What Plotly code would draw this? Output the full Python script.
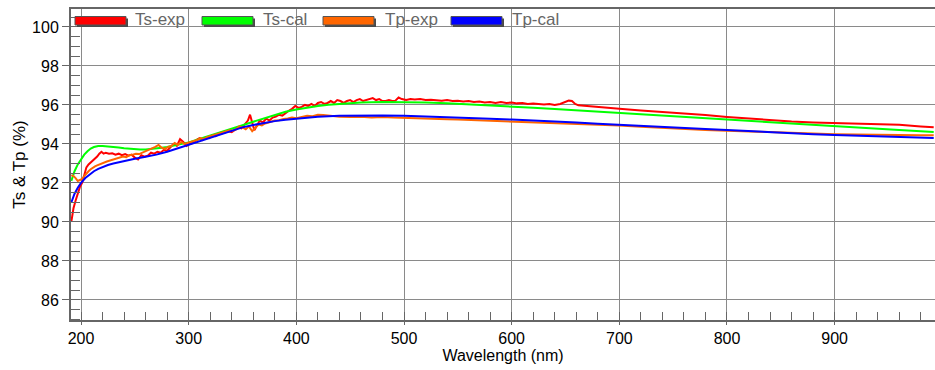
import plotly.graph_objects as go

# ---- measured transmittance spectra (wavelength in nm, transmittance in %) ----
ts_exp_x = [191, 193, 195, 197, 199, 201, 203, 205, 207, 209, 211, 213, 215, 217, 219, 221, 223, 226, 229, 232,
            235, 238, 241, 244, 247, 250, 253, 256, 259, 262, 265, 268, 271, 274, 277, 280, 283, 286, 289, 292,
            295, 298, 301, 304, 307, 310, 313, 316, 319, 322, 325, 328, 331, 334, 337, 340, 343, 346, 349, 352,
            355, 357, 359, 361, 363, 366, 369, 372, 375, 378, 381, 384, 387, 390, 393, 396, 399, 402, 405, 408,
            411, 414, 417, 420, 423, 426, 429, 432, 435, 438, 441, 444, 447, 450, 453, 456, 459, 462, 465, 468,
            471, 474, 477, 480, 483, 486, 489, 492, 495, 498, 502, 506, 510, 515, 520, 525, 530, 535, 540, 545,
            550, 555, 560, 565, 570, 575, 580, 585, 590, 595, 600, 605, 610, 615, 620, 625, 630, 635, 640, 645,
            650, 653, 656, 659, 662, 670, 680, 690, 700, 720, 740, 760, 780, 800, 820, 840, 860, 880, 900, 920,
            940, 960, 980, 992]
ts_exp_y = [90.0, 90.7, 91.1, 91.45, 91.8, 92.0, 92.4, 92.8, 92.95, 93.05, 93.1, 93.25, 93.35, 93.5, 93.6, 93.5,
            93.55, 93.5, 93.52, 93.45, 93.5, 93.42, 93.48, 93.4, 93.45, 93.3, 93.2, 93.42, 93.35, 93.4, 93.55,
            93.5, 93.6, 93.55, 93.7, 93.65, 93.8, 94.0, 93.9, 94.25, 94.1, 93.9, 94.0, 94.05, 94.2, 94.3, 94.2,
            94.35, 94.3, 94.45, 94.4, 94.5, 94.55, 94.6, 94.65, 94.6, 94.75, 94.85, 94.8, 95.0, 95.2, 95.5, 95.1,
            94.7, 94.9, 95.2, 95.1, 95.3, 95.2, 95.35, 95.4, 95.5, 95.45, 95.6, 95.7, 95.8, 95.95, 95.85, 95.9,
            96.0, 95.95, 96.05, 95.95, 96.1, 96.15, 96.05, 96.1, 96.2, 96.1, 96.25, 96.2, 96.1, 96.2, 96.25, 96.15,
            96.25, 96.3, 96.2, 96.25, 96.3, 96.35, 96.25, 96.3, 96.2, 96.2, 96.25, 96.2, 96.22, 96.38, 96.3,
            96.25, 96.3, 96.28, 96.3, 96.25, 96.27, 96.25, 96.22, 96.25, 96.2, 96.22, 96.18, 96.2, 96.15, 96.18,
            96.12, 96.15, 96.1, 96.15, 96.1, 96.12, 96.08, 96.1, 96.05, 96.07, 96.05, 96.02, 96.05, 96.0, 96.05,
            96.15, 96.22, 96.2, 96.05, 95.98, 95.95, 95.9, 95.85, 95.8, 95.72, 95.65, 95.55, 95.48, 95.38, 95.3,
            95.22, 95.15, 95.1, 95.07, 95.05, 95.0, 94.98, 94.9, 94.85]

ts_cal_x = [191, 194, 197, 200, 203, 206, 209, 212, 216, 220, 225, 230, 235, 240, 245, 250, 255, 260, 265, 270,
            275, 280, 285, 290, 295, 300, 310, 320, 330, 340, 350, 360, 370, 380, 390, 400, 410, 420, 430, 440,
            450, 460, 480, 500, 520, 540, 560, 580, 600, 620, 640, 660, 680, 700, 720, 740, 760, 780, 800, 820,
            840, 860, 880, 900, 920, 940, 960, 980, 992]
ts_cal_y = [92.1, 92.6, 92.95, 93.2, 93.45, 93.62, 93.76, 93.84, 93.89, 93.9, 93.88, 93.85, 93.82, 93.78, 93.75,
            93.73, 93.72, 93.72, 93.74, 93.77, 93.8, 93.84, 93.9, 93.96, 94.02, 94.08, 94.25, 94.42, 94.6, 94.78,
            94.96, 95.14, 95.32, 95.5, 95.65, 95.77, 95.87, 95.95, 96.01, 96.06, 96.1, 96.13, 96.15, 96.14, 96.12,
            96.08, 96.03, 95.98, 95.93, 95.86, 95.79, 95.72, 95.66, 95.6, 95.52, 95.45, 95.38, 95.31, 95.24, 95.17,
            95.1, 95.03, 94.96, 94.9, 94.83, 94.77, 94.71, 94.65, 94.61]

tp_exp_x = [191, 193, 195, 197, 199, 201, 203, 205, 207, 209, 211, 213, 215, 217, 219, 221, 224, 227, 230, 233,
            236, 239, 242, 245, 248, 251, 254, 257, 260, 263, 266, 269, 272, 275, 278, 281, 284, 287, 290, 293,
            296, 299, 302, 305, 308, 311, 314, 317, 320, 323, 326, 329, 332, 335, 338, 341, 344, 347, 350, 353,
            356, 359, 362, 365, 368, 371, 374, 377, 380, 384, 388, 392, 396, 400, 405, 410, 415, 420, 425, 430,
            435, 440, 450, 460, 470, 480, 490, 500, 510, 520, 530, 540, 550, 560, 570, 580, 590, 600, 620, 640,
            660, 680, 700, 720, 740, 760, 780, 800, 820, 840, 860, 880, 900, 920, 940, 960, 980, 992]
tp_exp_y = [92.4, 92.35, 92.25, 92.1, 92.15, 92.2, 92.35, 92.5, 92.6, 92.7, 92.8, 92.85, 92.9, 92.95, 93.0, 93.05,
            93.1, 93.15, 93.2, 93.25, 93.3, 93.35, 93.32, 93.42, 93.45, 93.5, 93.48, 93.55, 93.6, 93.7, 93.75,
            93.85, 93.95, 93.8, 93.75, 93.85, 93.9, 94.05, 93.95, 94.1, 94.0, 94.05, 94.1, 94.15, 94.2, 94.3,
            94.25, 94.35, 94.4, 94.45, 94.5, 94.55, 94.6, 94.65, 94.7, 94.68, 94.75, 94.9, 94.85, 94.75, 94.9,
            94.65, 94.85, 95.0, 94.95, 95.05, 95.1, 95.15, 95.2, 95.22, 95.28, 95.3, 95.35, 95.32, 95.38, 95.45,
            95.42, 95.5, 95.48, 95.45, 95.42, 95.4, 95.38, 95.4, 95.36, 95.38, 95.35, 95.34, 95.32, 95.3, 95.28,
            95.27, 95.25, 95.23, 95.22, 95.2, 95.18, 95.17, 95.12, 95.08, 95.03, 94.98, 94.94, 94.88, 94.82,
            94.76, 94.71, 94.68, 94.64, 94.6, 94.56, 94.53, 94.5, 94.48, 94.46, 94.45, 94.44, 94.45]

tp_cal_x = [191, 194, 197, 200, 204, 208, 212, 216, 220, 225, 230, 240, 250, 260, 270, 280, 290, 300, 310, 320,
            330, 340, 350, 360, 370, 380, 390, 400, 420, 440, 460, 480, 500, 520, 540, 560, 580, 600, 620, 640,
            660, 680, 700, 720, 740, 760, 780, 800, 820, 840, 860, 880, 900, 920, 940, 960, 980, 992]
tp_cal_y = [91.0, 91.45, 91.75, 92.0, 92.25, 92.45, 92.6, 92.72, 92.82, 92.92, 93.0, 93.13, 93.24, 93.34, 93.45,
            93.6, 93.78, 93.96, 94.14, 94.32, 94.52, 94.7, 94.85, 94.97, 95.08, 95.17, 95.24, 95.3, 95.4, 95.45,
            95.46, 95.46, 95.44, 95.41, 95.37, 95.33, 95.29, 95.25, 95.21, 95.16, 95.1, 95.04, 94.98, 94.93,
            94.87, 94.81, 94.76, 94.72, 94.66, 94.6, 94.55, 94.5, 94.46, 94.42, 94.38, 94.35, 94.32, 94.3]

series_names = ["Ts-exp", "Ts-cal", "Tp-exp", "Tp-cal"]
series_colors = ["#ff0000", "#00ff00", "#ff6600", "#0000ff"]
series_x = [ts_exp_x, ts_cal_x, tp_exp_x, tp_cal_x]
series_y = [ts_exp_y, ts_cal_y, tp_exp_y, tp_cal_y]

x_tick_vals = [200, 300, 400, 500, 600, 700, 800, 900]
y_tick_vals = [86, 88, 90, 92, 94, 96, 98, 100]

# ---- canvas geometry (pixels) ----
W, H = 935, 370
ML, MR, MT, MB = 71, 0, 9, 50
PW, PH = W - ML - MR, H - MT - MB

def px_x(px):
    return (px - ML) / PW

def px_y(py):
    return (H - MB - py) / PH

FONT = "Arial, Liberation Sans, sans-serif"
AXIS_GREY = "#666666"
GRID_GREY = "#8a8a8a"

fig = go.Figure()
for name, color, xs, ys in zip(series_names, series_colors, series_x, series_y):
    fig.add_trace(go.Scatter(x=xs, y=ys, mode="lines", name=name,
                             line=dict(color=color, width=2), showlegend=False))

shapes = []
# white legend band across the top of the plot area
shapes.append(dict(type="rect", xref="paper", yref="paper", x0=0, x1=1,
                   y0=px_y(26.3), y1=1, fillcolor="white", line=dict(width=0), layer="between"))

# legend swatches: framed colour bars with a drop shadow
swatch_left = [75, 202, 323, 451]
label_left = [133, 261, 383, 510]
sw_w, sw_top, sw_bot = 51, 16.5, 25
annotations = []
for name, color, x0, lx in zip(series_names, series_colors, swatch_left, label_left):
    shapes.append(dict(type="rect", xref="paper", yref="paper",
                       x0=px_x(x0 + 2), x1=px_x(x0 + sw_w + 2), y0=px_y(sw_bot + 2), y1=px_y(sw_top + 2),
                       fillcolor="#4a4a4a", line=dict(width=0), layer="above"))
    shapes.append(dict(type="rect", xref="paper", yref="paper",
                       x0=px_x(x0), x1=px_x(x0 + sw_w), y0=px_y(sw_bot), y1=px_y(sw_top),
                       fillcolor=color, line=dict(color="#555555", width=1), layer="above"))
    annotations.append(dict(xref="paper", yref="paper", x=px_x(lx), y=px_y(19.5),
                            xanchor="left", yanchor="middle", text=name, showarrow=False,
                            font=dict(family=FONT, size=17, color="#666666")))

fig.update_layout(
    width=W, height=H,
    margin=dict(l=ML, r=MR, t=MT, b=MB, pad=0),
    paper_bgcolor="white", plot_bgcolor="white",
    shapes=shapes, annotations=annotations,
    showlegend=False,
)

fig.update_xaxes(
    range=[190.7, 993.2], tickvals=x_tick_vals, ticks="outside", ticklen=3, tickwidth=1,
    tickcolor=AXIS_GREY, showgrid=True, gridcolor=GRID_GREY, gridwidth=1, zeroline=False,
    showline=True, linecolor=AXIS_GREY, linewidth=2, mirror=True,
    minor=dict(tick0=0, dtick=20, ticks="inside", ticklen=8, tickwidth=1, tickcolor=AXIS_GREY, showgrid=False),
    tickfont=dict(family=FONT, size=16, color="black"),
    title=dict(text="Wavelength (nm)", font=dict(family=FONT, size=16, color="black"), standoff=1),
    automargin=False,
)
fig.update_yaxes(
    range=[84.97, 100.92], tickvals=y_tick_vals, ticks="outside", ticklen=7, tickwidth=1,
    tickcolor=AXIS_GREY, showgrid=True, gridcolor=GRID_GREY, gridwidth=1, zeroline=False,
    showline=True, linecolor=AXIS_GREY, linewidth=2, mirror=False,
    minor=dict(tick0=0, dtick=0.5, ticks="inside", ticklen=9, tickwidth=1, tickcolor=AXIS_GREY, showgrid=False),
    tickfont=dict(family=FONT, size=16, color="black"),
    title=dict(text="Ts &amp; Tp (%)", font=dict(family=FONT, size=17, color="black"), standoff=2),
    automargin=False,
)

fig.write_html("out.html")
